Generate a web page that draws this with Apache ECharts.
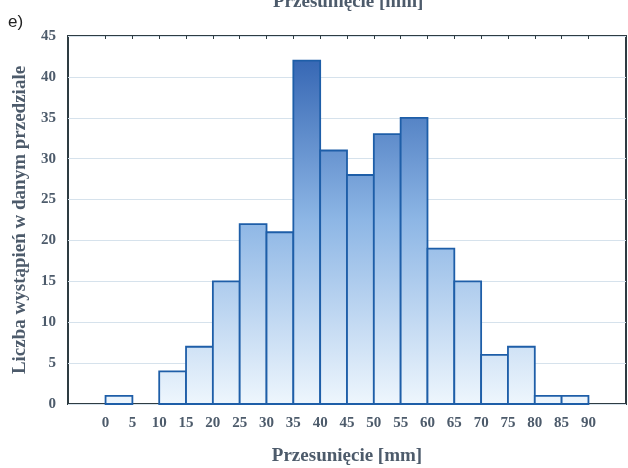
<!DOCTYPE html>
<html>
<head>
<meta charset="utf-8">
<script src="https://cdn.jsdelivr.net/npm/echarts@6/dist/echarts.min.js"></script>
<style>
html,body{margin:0;padding:0;background:#fff;}
#chart{width:628px;height:468px;}
</style>
</head>
<body>
<div id="chart"></div>
<script>
var binStarts = [0,5,10,15,20,25,30,35,40,45,50,55,60,65,70,75,80,85];
var binWidth = 5;
var counts = [1,0,4,7,15,22,21,42,31,28,33,35,19,15,6,7,1,1];
var xTickValues = [0,5,10,15,20,25,30,35,40,45,50,55,60,65,70,75,80,85,90];
var xTitle = 'Przesunięcie [mm]';
var yTitle = 'Liczba wystąpień w danym przedziale';
var panelLabel = 'e)';

var data = binStarts.map(function(s, i){ return [s, s + binWidth, counts[i]]; });

var chart = echarts.init(document.getElementById('chart'));
var serif = '"Liberation Serif","DejaVu Serif",serif';
var txtColor = '#4d5b6b';
var fill = {type:'linear', x:0, y:36, x2:0, y2:404, global:true,
  colorStops:[{offset:0,color:'#2a5cad'},{offset:0.5,color:'#8db6e5'},{offset:1,color:'#eef6fd'}]};

chart.setOption({
  animation:false,
  backgroundColor:'#fff',
  title:[
    {text:panelLabel, left:3, top:9, textStyle:{fontFamily:'"Liberation Sans",Arial,sans-serif', fontSize:17, fontWeight:'normal', color:'#222'}},
    {text:xTitle, left:268, top:-12, textStyle:{fontFamily:serif, fontSize:19, fontWeight:'bold', color:txtColor}}
  ],
  grid:{left:68, top:36, right:2, bottom:64, outerBoundsMode:'none', containLabel:false, show:true, borderColor:'#2e3c42', borderWidth:2, backgroundColor:'#fff'},
  xAxis:[{
    type:'value', min:-7, max:97,
    name:xTitle, nameLocation:'middle', nameGap:43,
    nameTextStyle:{fontFamily:serif, fontSize:19, fontWeight:'bold', color:txtColor},
    axisLine:{show:false},
    splitLine:{show:false},
    axisTick:{show:false},
    axisLabel:{customValues:xTickValues, fontFamily:serif, fontSize:15, fontWeight:'bold', color:txtColor, margin:12}
  },{
    type:'value', min:-7, max:97, position:'top',
    axisLine:{show:false}, splitLine:{show:false},
    axisTick:{show:true, inside:true, length:3, customValues:xTickValues, lineStyle:{color:'#2e3c42'}},
    axisLabel:{show:false}
  }],
  yAxis:{
    type:'value', min:0, max:45, interval:5,
    name:yTitle, nameLocation:'middle', nameGap:38, nameRotate:90,
    nameTextStyle:{fontFamily:serif, fontSize:19, fontWeight:'bold', color:txtColor},
    axisLine:{show:false},
    axisTick:{show:false},
    splitLine:{show:true, lineStyle:{color:'#d6e2ec', width:1}},
    axisLabel:{fontFamily:serif, fontSize:15, fontWeight:'bold', color:txtColor, margin:12}
  },
  series:[{
    type:'custom',
    xAxisIndex:0,
    data:data,
    encode:{x:[0,1], y:2},
    renderItem:function(params, api){
      var v = api.value(2);
      if (!v) return null;
      var p0 = api.coord([api.value(0), 0]);
      var p1 = api.coord([api.value(1), v]);
      return {
        type:'rect',
        shape:{x:p0[0], y:p1[1], width:p1[0]-p0[0], height:p0[1]-p1[1]},
        style:{fill:fill, stroke:'#1e5ea8', lineWidth:1.8}
      };
    }
  }]
});
</script>
</body>
</html>
